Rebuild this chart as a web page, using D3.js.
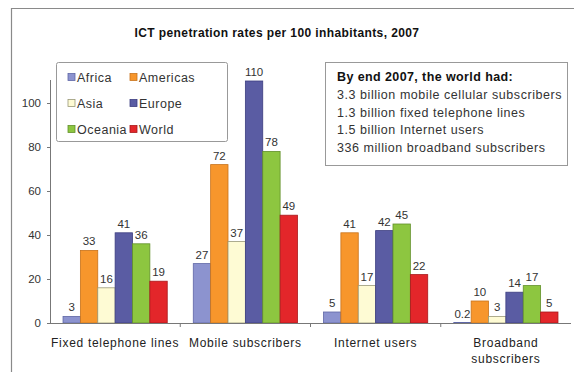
<!DOCTYPE html>
<html><head><meta charset="utf-8">
<script src="https://cdn.jsdelivr.net/npm/d3@7/dist/d3.min.js"></script>
<style>body{margin:0;background:#fff;} svg{display:block;font-family:"Liberation Sans",Arial,sans-serif;}</style>
</head><body>
<svg id="c" width="574" height="372"></svg>
<script>
const categories = ["Fixed telephone lines", "Mobile subscribers", "Internet users", "Broadband subscribers"];
const seriesNames = ["Africa", "Americas", "Asia", "Europe", "Oceania", "World"];
const africa   = [3, 27, 5, 0.2];
const americas = [33, 72, 41, 10];
const asia     = [16, 37, 17, 3];
const europe   = [41, 110, 42, 14];
const oceania  = [36, 78, 45, 17];
const world    = [19, 49, 22, 5];
const yTicks = [0, 20, 40, 60, 80, 100];
const infoLines = ["3.3 billion mobile cellular subscribers", "1.3 billion fixed telephone lines", "1.5 billion Internet users", "336 million broadband subscribers"];

const seriesValues = [africa, americas, asia, europe, oceania, world];
const fills   = ["#8c93cf", "#f7962c", "#fefbd4", "#5a5ca3", "#8dc640", "#e3262a"];
const strokes = ["#5f67a6", "#c8731c", "#9a9878", "#3c3e80", "#62902a", "#a8181b"];

const svg = d3.select("#c");
// outer frame
svg.append("path").attr("d","M11.5,372 V8.5 H574").attr("fill","none").attr("stroke","#8a8a8a").attr("stroke-width",1.2);

svg.append("text").attr("x",277).attr("y",37).attr("text-anchor","middle")
  .attr("font-weight","bold").attr("font-size",12).attr("letter-spacing",0.4).attr("fill","#111")
  .text("ICT penetration rates per 100 inhabitants, 2007");

const x0 = d3.scaleBand().domain(categories).range([50, 571]).padding(0);
const x1 = d3.scaleBand().domain(seriesNames).range([0, x0.bandwidth()]).paddingInner(0).paddingOuter(0.75);
const y = d3.scaleLinear().domain([0, 110]).range([323, 81]);

// bars
const g = svg.append("g");
categories.forEach((cat, ci) => {
  seriesNames.forEach((s, si) => {
    const v = seriesValues[si][ci];
    g.append("rect")
      .attr("x", x0(cat) + x1(s))
      .attr("y", y(v))
      .attr("width", x1.bandwidth())
      .attr("height", y(0) - y(v))
      .attr("fill", fills[si]).attr("stroke", strokes[si]).attr("stroke-width", 0.8);
    g.append("text")
      .attr("x", x0(cat) + x1(s) + x1.bandwidth()/2)
      .attr("y", y(v) - 5)
      .attr("text-anchor","middle").attr("font-size",11.5).attr("fill","#333")
      .text(String(v));
  });
});

// y axis
const yAxis = d3.axisLeft(y).tickValues(yTicks).tickSize(3).tickPadding(6).tickFormat(d3.format("d"));
const ya = svg.append("g").attr("transform","translate(50,0)").call(yAxis);
ya.select(".domain").attr("stroke","#777").attr("d","M0.5,80V323");
ya.selectAll(".tick line").attr("stroke","#777");
ya.selectAll(".tick text").attr("font-size",11.5).attr("fill","#333").attr("font-family","Liberation Sans, Arial, sans-serif");

// x axis
svg.append("line").attr("x1",50).attr("x2",571).attr("y1",323.5).attr("y2",323.5).attr("stroke","#777");
categories.slice(1).forEach(c => {
  svg.append("line").attr("x1",x0(c)).attr("x2",x0(c)).attr("y1",323).attr("y2",327).attr("stroke","#777");
});
categories.forEach(c => {
  const cx = x0(c) + x0.bandwidth()/2;
  const words = c === "Broadband subscribers" ? ["Broadband","subscribers"] : [c];
  words.forEach((w, i) => {
    svg.append("text").attr("x", cx).attr("y", 347 + i*16).attr("text-anchor","middle")
      .attr("font-size",12).attr("letter-spacing",0.7).attr("fill","#222").text(w);
  });
});

// legend
svg.append("rect").attr("x",56.5).attr("y",62.5).attr("width",171).attr("height",79)
  .attr("fill","#fff").attr("stroke","#999").attr("rx",2);
seriesNames.forEach((s, i) => {
  const col = i % 2, row = Math.floor(i/2);
  const lx = 68 + col*62, ly = 77 + row*26;
  svg.append("rect").attr("x",lx).attr("y",ly-3.5).attr("width",7).attr("height",7)
    .attr("fill",fills[i]).attr("stroke",strokes[i]).attr("stroke-width",0.8);
  svg.append("text").attr("x",lx+9).attr("y",ly+4.5).attr("font-size",12.5).attr("letter-spacing",0.5)
    .attr("fill","#333").text(s);
});

// info box
svg.append("rect").attr("x",325.5).attr("y",62.5).attr("width",242).attr("height",103)
  .attr("fill","#fff").attr("stroke","#999");
svg.append("text").attr("x",337).attr("y",81).attr("font-size",12.5).attr("font-weight","bold").attr("letter-spacing",0.4).attr("fill","#111")
  .text("By end 2007, the world had:");
infoLines.forEach((t, i) => {
  svg.append("text").attr("x",337).attr("y",99 + i*17.5).attr("font-size",12.5).attr("letter-spacing",0.55)
    .attr("fill","#333").text(t);
});
</script>
</body></html>
